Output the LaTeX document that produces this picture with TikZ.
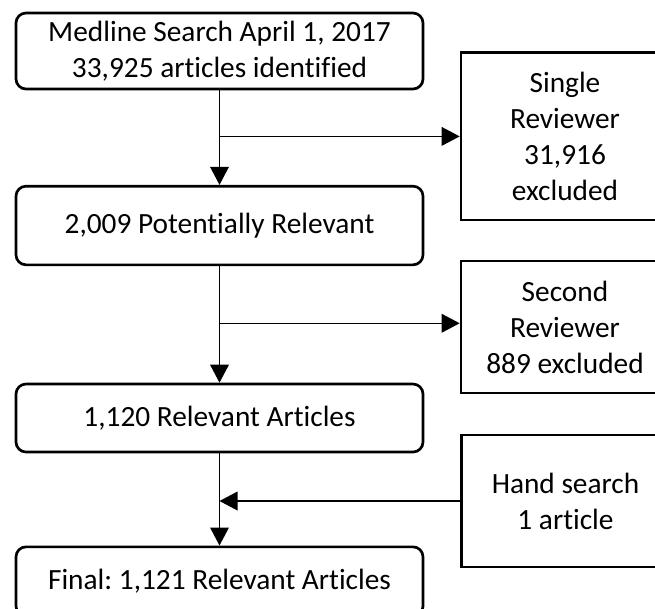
\documentclass[tikz,border=0pt]{standalone}
\usepackage{fontspec}
\setmainfont{Carlito}[Ligatures=NoCommon]
\frenchspacing
\usepackage{tikz}
\usetikzlibrary{arrows.meta,positioning,calc}
\tikzset{stage/.style={draw,line width=2pt,rounded corners=7.5pt,align=center,font=\fontsize{22}{27}\selectfont,minimum width=305.25pt,inner sep=0pt}, drop/.style={draw,line width=2pt,align=center,font=\fontsize{22}{27}\selectfont,minimum width=156pt,inner sep=0pt}, flow/.style={-{Triangle[length=13.5pt,width=14pt]},line width=1pt}}

\begin{document}
\begin{tikzpicture}[x=0.75pt,y=-0.75pt]
\useasboundingbox (0,0) rectangle (655,608);
\clip (0,0) rectangle (655,608);
\node[stage,minimum height=57pt] (med) at (219.5,51) {Medline Search April 1, 2017\\33,925 articles identified};
\node[drop,minimum height=125.5pt] (single) at (565,136.4) {Single\\Reviewer\\31,916\\excluded};
\node[stage,minimum height=59pt] (pot) at (219.5,225.5) {2,009 Potentially Relevant};
\node[drop,minimum height=99pt] (second) at (565,327) {Second\\Reviewer\\889 excluded};
\node[stage,minimum height=51pt] (rel) at (219.5,418) {1,120 Relevant Articles};
\node[drop,minimum height=99pt] (hand) at (565.5,501) {Hand search\\1 article};
\node[stage,minimum height=52pt] (final) at (219.5,581.5) {Final: 1,121 Relevant Articles};
\draw[flow] (med)--(pot);
\draw[flow] (med.south |- single.west)--(single.west);
\draw[flow] (pot)--(rel);
\coordinate (cut) at ($(pot.south)!0.49!(rel.north)$);
\draw[flow] (cut)--(cut -| second.west);
\draw[flow] (rel)--(final);
\draw[flow] (hand.west)--(rel.south |- hand.west);
\end{tikzpicture}
\end{document}
